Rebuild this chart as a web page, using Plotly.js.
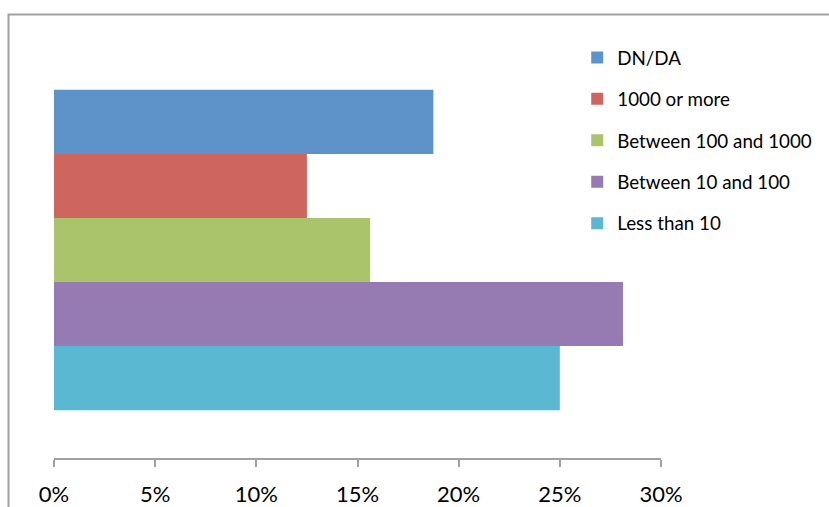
<!DOCTYPE html>
<html>
<head>
<meta charset="utf-8">
<script src="https://cdn.plot.ly/plotly-3.0.1.min.js"></script>
<style>html,body{margin:0;padding:0;background:#fff;}#chart{width:829px;height:507px;}</style>
</head>
<body>
<div id="chart"></div>
<script>
// Series (bottom to top as drawn)
const seriesNames = ["Less than 10", "Between 10 and 100", "Between 100 and 1000", "1000 or more", "DN/DA"];
const seriesValues = [0.25, 0.28125, 0.15625, 0.125, 0.1875];
const seriesColors = ["#5BB8D2", "#957BB2", "#AAC46C", "#CE665F", "#5E93CA"];
const category = [""];
const tickValues = [0, 0.05, 0.10, 0.15, 0.20, 0.25, 0.30];
const tickLabels = ["0%", "5%", "10%", "15%", "20%", "25%", "30%"];

const traces = seriesNames.map((name, i) => ({
  type: "bar",
  orientation: "h",
  name: name,
  y: category,
  x: [seriesValues[i]],
  marker: {color: seriesColors[i], line: {width: 0}},
  legendgroup: "g" + i,
  legendrank: (seriesNames.length - i) * 10,
  hoverinfo: "x+name"
}));

const layout = {
  width: 829,
  height: 507,
  margin: {l: 54, r: 168, t: 42, b: 49, pad: 0, autoexpand: false},
  paper_bgcolor: "#ffffff",
  plot_bgcolor: "#ffffff",
  barmode: "group",
  bargap: 0.23,
  bargroupgap: 0,
  font: {family: "Lato, 'Open Sans', sans-serif", color: "#000000"},
  xaxis: {
    range: [0, 0.30],
    tickvals: tickValues,
    ticktext: tickLabels,
    ticks: "outside",
    ticklen: 7,
    tickwidth: 2,
    tickcolor: "#A0A0A0",
    showline: true,
    linecolor: "#A0A0A0",
    linewidth: 2,
    showgrid: false,
    zeroline: false,
    ticklabelstandoff: 9,
    tickfont: {size: 22, family: "Lato, 'Open Sans', sans-serif", color: "#000"},
    fixedrange: true
  },
  yaxis: {
    showticklabels: false,
    showline: false,
    showgrid: false,
    zeroline: false,
    ticks: "",
    fixedrange: true
  },
  showlegend: true,
  legend: {
    x: 0.862,
    xanchor: "left",
    y: 1.008,
    yanchor: "top",
    traceorder: "grouped",
    tracegroupgap: 14,
    font: {size: 18.8, family: "Lato, 'Open Sans', sans-serif", color: "#000"},
    bgcolor: "rgba(0,0,0,0)",
    borderwidth: 0
  },
  shapes: [{
    type: "rect",
    xref: "paper", yref: "paper",
    x0: (8.5 - 54) / 607, x1: 2,
    y0: -1, y1: (458 - 14.5) / 416,
    line: {color: "#A0A0A0", width: 2},
    fillcolor: "rgba(0,0,0,0)",
    layer: "below"
  }]
};

Plotly.newPlot("chart", traces, layout, {displayModeBar: false, staticPlot: true});
</script>
</body>
</html>
